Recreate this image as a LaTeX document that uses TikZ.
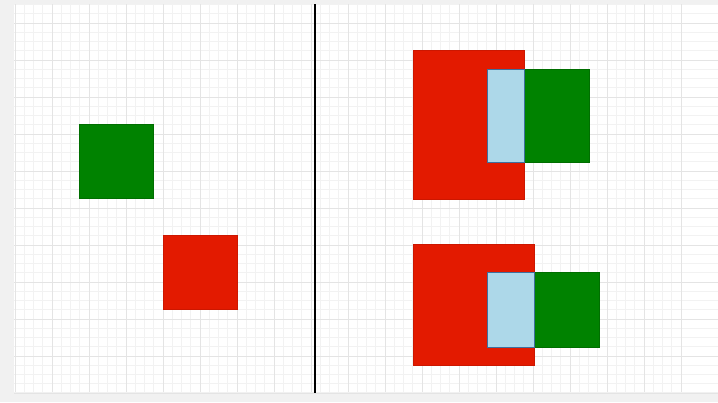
\documentclass[tikz,border=0pt]{standalone}
\definecolor{bgstrip}{HTML}{F1F1F1}
\definecolor{minorgrid}{HTML}{F2F2F2}
\definecolor{majorgrid}{HTML}{E4E4E4}
\definecolor{boxred}{HTML}{E31A00}
\definecolor{boxgreen}{HTML}{008200}
\definecolor{boxblue}{HTML}{ADD8E9}
\definecolor{blueedge}{HTML}{3E6F9E}
\tikzset{
  redbox/.style={fill=boxred, draw=boxred!90!black, line width=0.5pt},
  greenbox/.style={fill=boxgreen, draw=boxgreen!85!black, line width=0.5pt},
  bluebox/.style={fill=boxblue, draw=blueedge, line width=1pt},
}
\begin{document}
\begin{tikzpicture}[x=1pt,y=-1pt]
\useasboundingbox (0,0) rectangle (718,402);
% frame
\fill[bgstrip] (0,0) rectangle (718,402);
\fill[white] (14,4) rectangle (718,392);
% minor grid
\foreach \i in {0,...,76} {
  \pgfmathsetmacro\xx{15+9.25*\i-37}
  \ifdim\xx pt>14pt \draw[minorgrid, line width=0.6pt] (\xx,4) -- (\xx,392); \fi
}
\foreach \j in {0,...,44} {
  \pgfmathsetmacro\yy{23+9.25*\j-37}
  \ifdim\yy pt>4pt \ifdim\yy pt<392pt \draw[minorgrid, line width=0.6pt] (14,\yy) -- (718,\yy); \fi\fi
}
% major grid
\foreach \i in {0,...,19} {
  \draw[majorgrid, line width=0.8pt] ({15+37*\i},4) -- ({15+37*\i},392);
}
\foreach \j in {0,...,10} {
  \draw[majorgrid, line width=0.8pt] (14,{23+37*\j}) -- (718,{23+37*\j});
}
% divider
\draw[black, line width=2pt] (315,4) -- (315,393);
% left side
\draw[greenbox] (79,124) rectangle (153,198);
\draw[redbox] (163,235) rectangle (237,309);
% right top
\draw[redbox] (413,50) rectangle (524,199);
\draw[greenbox] (524,69) rectangle (589,162);
\draw[bluebox] (487,69) rectangle (524,162);
% right bottom
\draw[redbox] (413,244) rectangle (534,365);
\draw[greenbox] (534,272) rectangle (599,347);
\draw[bluebox] (487,272) rectangle (534,347);
\end{tikzpicture}
\end{document}
